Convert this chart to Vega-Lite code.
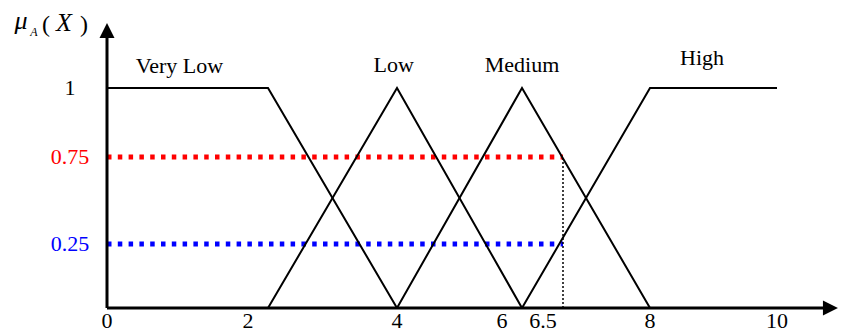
{
  "$schema": "https://vega.github.io/schema/vega-lite/v6.json",
  "width": 851,
  "height": 332,
  "autosize": "none",
  "padding": 0,
  "background": "white",
  "config": {
    "view": {"stroke": null},
    "text": {"font": "Liberation Serif", "fontSize": 22, "color": "black"}
  },
  "datasets": {
    "sets": [
      {"set": "Very Low", "i": 0, "x": 0, "y": 1},
      {"set": "Very Low", "i": 1, "x": 2, "y": 1},
      {"set": "Very Low", "i": 2, "x": 4, "y": 0},
      {"set": "Low", "i": 0, "x": 2, "y": 0},
      {"set": "Low", "i": 1, "x": 4, "y": 1},
      {"set": "Low", "i": 2, "x": 6, "y": 0},
      {"set": "Medium", "i": 0, "x": 4, "y": 0},
      {"set": "Medium", "i": 1, "x": 6, "y": 1},
      {"set": "Medium", "i": 2, "x": 8, "y": 0},
      {"set": "High", "i": 0, "x": 6, "y": 0},
      {"set": "High", "i": 1, "x": 8, "y": 1},
      {"set": "High", "i": 2, "x": 10, "y": 1}
    ],
    "cuts": [
      {"t": "0.75", "x": 0, "x2": 6.5, "y": 0.75},
      {"t": "0.25", "x": 0, "x2": 6.5, "y": 0.25}
    ],
    "drop": [{"x": 6.5, "y": 0, "y2": 0.75}],
    "axes": [
      {"x": 0, "y": 0, "x2": 10.75, "y2": 0},
      {"x": 0, "y": 0, "x2": 0, "y2": 1.24}
    ],
    "ylabels": [
      {"t": "1", "y": 1},
      {"t": "0.75", "y": 0.75},
      {"t": "0.25", "y": 0.25}
    ],
    "xlabels": [
      {"t": "0", "x": 0, "shift": false},
      {"t": "2", "x": 2, "shift": true},
      {"t": "4", "x": 4, "shift": false},
      {"t": "6", "x": 6, "shift": true},
      {"t": "6.5", "x": 6.5, "shift": true},
      {"t": "8", "x": 8, "shift": false},
      {"t": "10", "x": 10, "shift": false}
    ],
    "names": [
      {"t": "Very Low", "x": 0.9, "y": 1.068},
      {"t": "Low", "x": 3.95, "y": 1.073},
      {"t": "Medium", "x": 6.0, "y": 1.073},
      {"t": "High", "x": 8.82, "y": 1.105}
    ]
  },
  "layer": [
    {
      "data": {"name": "cuts"},
      "mark": {"type": "rule", "strokeWidth": 5, "strokeDash": [4.5, 6.3]},
      "encoding": {
        "x": {"field": "x", "type": "quantitative", "axis": null, "scale": {"domain": [-2, 0, 2, 4, 6, 6.5, 8, 10, 12], "range": [-20, 107, 268, 397, 522, 563, 650, 777, 904], "nice": false, "zero": false}},
        "x2": {"field": "x2"},
        "y": {"field": "y", "type": "quantitative", "axis": null, "scale": {"domain": [-0.2, 0, 0.25, 0.75, 1, 1.4], "range": [352, 308, 244, 157, 88, 0], "nice": false, "zero": false}},
        "color": {"field": "t", "type": "nominal", "legend": null, "scale": {"domain": ["1", "0.75", "0.25"], "range": ["#000000", "#ff0000", "#0000ff"]}}
      }
    },
    {
      "data": {"name": "drop"},
      "mark": {"type": "rule", "color": "black", "strokeWidth": 1.5, "strokeDash": [2, 2]},
      "encoding": {
        "x": {"field": "x", "type": "quantitative", "axis": null, "scale": {"domain": [-2, 0, 2, 4, 6, 6.5, 8, 10, 12], "range": [-20, 107, 268, 397, 522, 563, 650, 777, 904], "nice": false, "zero": false}},
        "y": {"field": "y", "type": "quantitative", "axis": null, "scale": {"domain": [-0.2, 0, 0.25, 0.75, 1, 1.4], "range": [352, 308, 244, 157, 88, 0], "nice": false, "zero": false}},
        "y2": {"field": "y2"}
      }
    },
    {
      "data": {"name": "sets"},
      "mark": {"type": "line", "color": "black", "strokeWidth": 2},
      "encoding": {
        "x": {"field": "x", "type": "quantitative", "axis": null, "scale": {"domain": [-2, 0, 2, 4, 6, 6.5, 8, 10, 12], "range": [-20, 107, 268, 397, 522, 563, 650, 777, 904], "nice": false, "zero": false}},
        "y": {"field": "y", "type": "quantitative", "axis": null, "scale": {"domain": [-0.2, 0, 0.25, 0.75, 1, 1.4], "range": [352, 308, 244, 157, 88, 0], "nice": false, "zero": false}},
        "detail": {"field": "set", "type": "nominal"},
        "order": {"field": "i", "type": "quantitative"}
      }
    },
    {
      "data": {"name": "axes"},
      "mark": {"type": "rule", "color": "black", "strokeWidth": 3},
      "encoding": {
        "x": {"field": "x", "type": "quantitative", "axis": null, "scale": {"domain": [-2, 0, 2, 4, 6, 6.5, 8, 10, 12], "range": [-20, 107, 268, 397, 522, 563, 650, 777, 904], "nice": false, "zero": false}},
        "x2": {"field": "x2"},
        "y": {"field": "y", "type": "quantitative", "axis": null, "scale": {"domain": [-0.2, 0, 0.25, 0.75, 1, 1.4], "range": [352, 308, 244, 157, 88, 0], "nice": false, "zero": false}},
        "y2": {"field": "y2"}
      }
    },
    {
      "data": {"values": [{"x": 10.96, "y": 0}]},
      "mark": {"type": "point", "shape": "M0,0L-2,-1L-2,1Z", "size": 225, "filled": true, "color": "black", "opacity": 1, "strokeWidth": 0},
      "encoding": {
        "x": {"field": "x", "type": "quantitative", "axis": null, "scale": {"domain": [-2, 0, 2, 4, 6, 6.5, 8, 10, 12], "range": [-20, 107, 268, 397, 522, 563, 650, 777, 904], "nice": false, "zero": false}},
        "y": {"field": "y", "type": "quantitative", "axis": null, "scale": {"domain": [-0.2, 0, 0.25, 0.75, 1, 1.4], "range": [352, 308, 244, 157, 88, 0], "nice": false, "zero": false}}
      }
    },
    {
      "data": {"values": [{"x": 0, "y": 1.295}]},
      "mark": {"type": "point", "shape": "M0,0L-1,2L1,2Z", "size": 225, "filled": true, "color": "black", "opacity": 1, "strokeWidth": 0},
      "encoding": {
        "x": {"field": "x", "type": "quantitative", "axis": null, "scale": {"domain": [-2, 0, 2, 4, 6, 6.5, 8, 10, 12], "range": [-20, 107, 268, 397, 522, 563, 650, 777, 904], "nice": false, "zero": false}},
        "y": {"field": "y", "type": "quantitative", "axis": null, "scale": {"domain": [-0.2, 0, 0.25, 0.75, 1, 1.4], "range": [352, 308, 244, 157, 88, 0], "nice": false, "zero": false}}
      }
    },
    {
      "data": {"name": "names"},
      "mark": {"type": "text", "font": "Liberation Serif", "fontSize": 22, "align": "center", "baseline": "alphabetic"},
      "encoding": {
        "x": {"field": "x", "type": "quantitative", "axis": null, "scale": {"domain": [-2, 0, 2, 4, 6, 6.5, 8, 10, 12], "range": [-20, 107, 268, 397, 522, 563, 650, 777, 904], "nice": false, "zero": false}},
        "y": {"field": "y", "type": "quantitative", "axis": null, "scale": {"domain": [-0.2, 0, 0.25, 0.75, 1, 1.4], "range": [352, 308, 244, 157, 88, 0], "nice": false, "zero": false}},
        "text": {"field": "t", "type": "nominal"}
      }
    },
    {
      "data": {"name": "ylabels"},
      "mark": {"type": "text", "font": "Liberation Serif", "fontSize": 22, "align": "center", "baseline": "middle", "dx": -37},
      "encoding": {
        "x": {"datum": 0, "type": "quantitative", "axis": null, "scale": {"domain": [-2, 0, 2, 4, 6, 6.5, 8, 10, 12], "range": [-20, 107, 268, 397, 522, 563, 650, 777, 904], "nice": false, "zero": false}},
        "y": {"field": "y", "type": "quantitative", "axis": null, "scale": {"domain": [-0.2, 0, 0.25, 0.75, 1, 1.4], "range": [352, 308, 244, 157, 88, 0], "nice": false, "zero": false}},
        "text": {"field": "t", "type": "nominal"},
        "color": {"field": "t", "type": "nominal", "legend": null, "scale": {"domain": ["1", "0.75", "0.25"], "range": ["#000000", "#ff0000", "#0000ff"]}}
      }
    },
    {
      "data": {"name": "xlabels"},
      "transform": [{"filter": "!datum.shift"}],
      "mark": {"type": "text", "font": "Liberation Serif", "fontSize": 22, "align": "center", "baseline": "middle", "dy": 13},
      "encoding": {
        "x": {"field": "x", "type": "quantitative", "axis": null, "scale": {"domain": [-2, 0, 2, 4, 6, 6.5, 8, 10, 12], "range": [-20, 107, 268, 397, 522, 563, 650, 777, 904], "nice": false, "zero": false}},
        "y": {"datum": 0, "type": "quantitative", "axis": null, "scale": {"domain": [-0.2, 0, 0.25, 0.75, 1, 1.4], "range": [352, 308, 244, 157, 88, 0], "nice": false, "zero": false}},
        "text": {"field": "t", "type": "nominal"}
      }
    },
    {
      "data": {"name": "xlabels"},
      "transform": [{"filter": "datum.shift"}],
      "mark": {"type": "text", "font": "Liberation Serif", "fontSize": 22, "align": "center", "baseline": "middle", "dy": 13, "dx": -20},
      "encoding": {
        "x": {"field": "x", "type": "quantitative", "axis": null, "scale": {"domain": [-2, 0, 2, 4, 6, 6.5, 8, 10, 12], "range": [-20, 107, 268, 397, 522, 563, 650, 777, 904], "nice": false, "zero": false}},
        "y": {"datum": 0, "type": "quantitative", "axis": null, "scale": {"domain": [-0.2, 0, 0.25, 0.75, 1, 1.4], "range": [352, 308, 244, 157, 88, 0], "nice": false, "zero": false}},
        "text": {"field": "t", "type": "nominal"}
      }
    },
    {
      "mark": {"type": "text", "font": "Liberation Serif", "fontSize": 22, "align": "center", "baseline": "middle", "dy": -23, "text": "S (Number)"},
      "encoding": {
        "x": {"datum": 10.27, "type": "quantitative", "axis": null, "scale": {"domain": [-2, 0, 2, 4, 6, 6.5, 8, 10, 12], "range": [-20, 107, 268, 397, 522, 563, 650, 777, 904], "nice": false, "zero": false}},
        "y": {"datum": 0, "type": "quantitative", "axis": null, "scale": {"domain": [-0.2, 0, 0.25, 0.75, 1, 1.4], "range": [352, 308, 244, 157, 88, 0], "nice": false, "zero": false}}
      }
    },
    {
      "data": {"values": [{"part": "mu"}]},
      "layer": [
        {"mark": {"type": "text", "font": "Liberation Serif", "text": "μ", "fontStyle": "italic", "fontSize": 26, "align": "center", "baseline": "alphabetic", "dx": -86, "dy": 7}},
        {"mark": {"type": "text", "font": "Liberation Serif", "text": "A", "fontStyle": "italic", "fontSize": 12, "align": "center", "baseline": "alphabetic", "dx": -73, "dy": 14}},
        {"mark": {"type": "text", "font": "Liberation Serif", "text": "(", "fontSize": 24, "align": "center", "baseline": "alphabetic", "dx": -61, "dy": 10}},
        {"mark": {"type": "text", "font": "Liberation Serif", "text": "X", "fontStyle": "italic", "fontSize": 26, "align": "center", "baseline": "alphabetic", "dx": -43, "dy": 9}},
        {"mark": {"type": "text", "font": "Liberation Serif", "text": ")", "fontSize": 24, "align": "center", "baseline": "alphabetic", "dx": -23, "dy": 10}}
      ],
      "encoding": {
        "x": {"datum": 0, "type": "quantitative", "axis": null, "scale": {"domain": [-2, 0, 2, 4, 6, 6.5, 8, 10, 12], "range": [-20, 107, 268, 397, 522, 563, 650, 777, 904], "nice": false, "zero": false}},
        "y": {"datum": 1.3, "type": "quantitative", "axis": null, "scale": {"domain": [-0.2, 0, 0.25, 0.75, 1, 1.4], "range": [352, 308, 244, 157, 88, 0], "nice": false, "zero": false}}
      }
    }
  ]
}
